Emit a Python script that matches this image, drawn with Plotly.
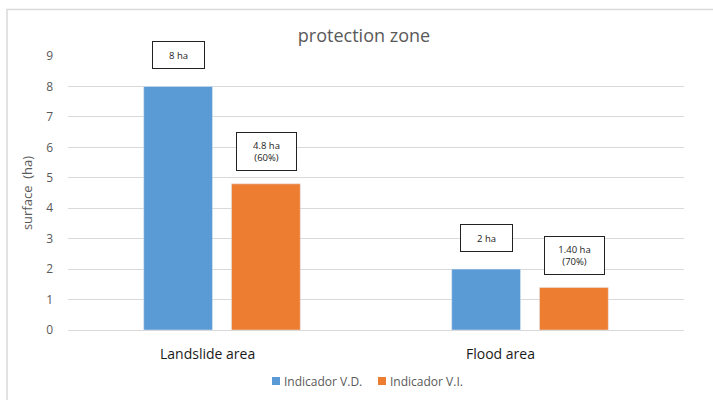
import plotly.graph_objects as go

# Data
categories = ["Landslide area", "Flood area"]
series_names = ["Indicador V.D.", "Indicador V.I."]
vd_values = [8, 2]
vi_values = [4.8, 1.4]
vd_labels = ["8 ha", "2 ha"]
vi_labels = ["4.8 ha<br>(60%)", "1.40 ha<br>(70%)"]
y_ticks = list(range(0, 10))

BLUE = "#5b9bd5"
ORANGE = "#ed7d31"
GRAY = "#595959"
FONT = "Open Sans, Liberation Sans, sans-serif"

# Plot area in pixels (used to express paper coordinates)
W, H = 713, 400
L, R, T, B = 68, 29, 56, 70
PW, PH = W - L - R, H - T - B


def px_x(px):
    return (px - L) / PW


def px_y(py):
    return (H - B - py) / PH


fig = go.Figure()
fig.add_trace(go.Bar(name=series_names[0], x=categories, y=vd_values,
                     marker_color=BLUE, offsetgroup="vd"))
fig.add_trace(go.Bar(name=series_names[1], x=categories, y=vi_values,
                     marker_color=ORANGE, offsetgroup="vi"))

# Boxed value labels above each bar
box_font = dict(family=FONT, size=9.5, color="#222222")
for i, cat in enumerate(categories):
    fig.add_annotation(x=cat, y=vd_values[i], xref="x", yref="y",
                       text=vd_labels[i], showarrow=False, xshift=-44, yshift=31,
                       width=49, height=24, bordercolor="#222222", borderwidth=1,
                       bgcolor="white", font=box_font)
    fig.add_annotation(x=cat, y=vi_values[i], xref="x", yref="y",
                       text=vi_labels[i], showarrow=False, xshift=44, yshift=32,
                       width=57, height=35, bordercolor="#222222", borderwidth=1,
                       bgcolor="white", font=box_font)

# Category labels under the axis
label_shift = [-15, -30]
for i, cat in enumerate(categories):
    fig.add_annotation(x=cat, y=0, xref="x", yref="y", text=cat, showarrow=False,
                       xshift=label_shift[i], yshift=-23,
                       font=dict(family=FONT, size=14, color="#1a1a1a"))

# Compact legend: small square swatch followed by the series name
legend_x = [272, 378]
legend_y = 381
for name, color, lx in zip(series_names, [BLUE, ORANGE], legend_x):
    fig.add_shape(type="rect", xref="paper", yref="paper",
                  x0=px_x(lx), x1=px_x(lx + 8), y0=px_y(legend_y + 4), y1=px_y(legend_y - 4),
                  line=dict(width=0), fillcolor=color)
    fig.add_annotation(x=px_x(lx + 10), y=px_y(legend_y), xref="paper", yref="paper",
                       text=name, showarrow=False, xanchor="left", yanchor="middle",
                       font=dict(family=FONT, size=12, color=GRAY))

# Outer chart frame
fig.add_shape(type="rect", xref="paper", yref="paper",
              x0=px_x(7), x1=px_x(W + 20), y0=px_y(H + 20), y1=px_y(9.5),
              line=dict(color="#d9d9d9", width=1.5), fillcolor="rgba(0,0,0,0)",
              layer="below")

fig.update_layout(
    width=W, height=H,
    margin=dict(l=L, r=R, t=T, b=B, autoexpand=False),
    paper_bgcolor="white", plot_bgcolor="white",
    barmode="group", bargap=0.43, bargroupgap=0.216,
    title=dict(text="protection zone", x=364 / W, xanchor="center",
               y=1 - 36 / H, yanchor="middle",
               font=dict(family=FONT, size=18, color=GRAY)),
    font=dict(family=FONT, color=GRAY),
    showlegend=False,
)
fig.update_xaxes(showticklabels=False, showline=True, linecolor="#d9d9d9",
                 linewidth=1, ticks="", showgrid=False)
fig.update_yaxes(range=[0, 9], tickvals=y_ticks, showgrid=True, gridcolor="#d9d9d9",
                 gridwidth=1, zeroline=False, ticks="", ticklabelstandoff=14,
                 tickfont=dict(size=12, color=GRAY),
                 title=dict(text="surface  (ha)", standoff=10,
                            font=dict(size=13, color=GRAY)))

fig.write_html("out.html")
